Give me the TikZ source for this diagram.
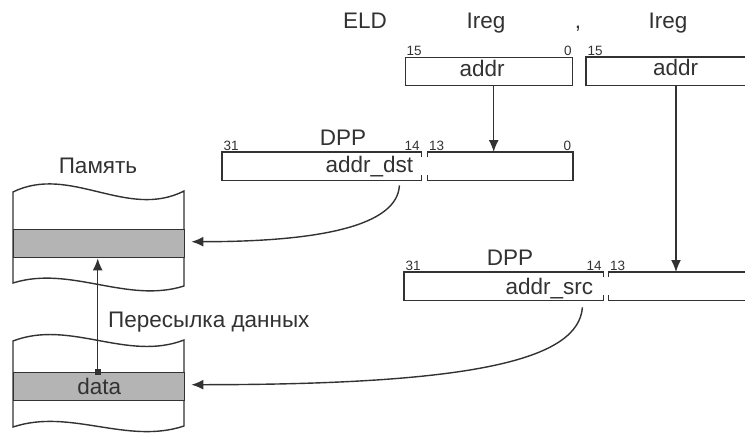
\documentclass[tikz,border=0pt]{standalone}
\usepackage{fontspec}
\setmainfont{Liberation Sans}
\usetikzlibrary{arrows.meta, positioning, calc}
\definecolor{lineFg}{RGB}{50, 50, 50}
\definecolor{cellBg}{RGB}{180, 180, 180}
\tikzstyle{line} = [line width=1.4pt, draw=lineFg]
\tikzstyle{arrow} = [line, -{Latex[length=12pt,width=10pt]}]
\tikzstyle{basic} = [rectangle, minimum height=28pt, inner sep=0pt, draw=lineFg, line width=1.4pt, fill=white, text=lineFg]
\tikzstyle{half} = [rectangle, minimum height=28pt, inner sep=0pt, text=lineFg]
\tikzstyle{cell} = [basic, fill=cellBg, font=\fontsize{22.5}{25}\selectfont]
\tikzstyle{txt} = [inner sep=0pt, text=lineFg, font=\fontsize{22.5}{25}\selectfont]
\tikzstyle{bit} = [inner sep=1.5pt, text=lineFg, font=\fontsize{13.5}{15}\selectfont]

\begin{document}
\begin{tikzpicture}[x=1pt, y=-1pt]
\useasboundingbox (0,0) rectangle (745,434);

\node (eld) [txt, anchor=base] at (365,28) {ELD};
\node (iregA) [txt, anchor=base] at (486,28) {Ireg};
\node (comma) [txt, anchor=base] at (578,28) {,};
\node (iregB) [txt, anchor=base] at (668,28) {Ireg};

\node (regA) [basic, minimum width=167pt, anchor=north west] at (405,57) {};
\node (addrA) [txt, anchor=base, xshift=-7pt, yshift=10pt] at(regA.south) {addr};
\node (regB) [half, minimum width=159pt, anchor=north west] at (586,57) {};
\draw [line] (regB.north east) -- (regB.north west) -- (regB.south west) -- (regB.south east);
\node (addrB) [txt, anchor=base, xshift=10pt, yshift=10pt] at(regB.south) {addr};
\node (bitA15) [bit, anchor=south west] at(regA.north west) {15};
\node (bitA0) [bit, anchor=south east] at(regA.north east) {0};
\node (bitB15) [bit, anchor=south west] at(regB.north west) {15};

% DPP + addr_dst
\node (dst) [half, minimum width=199pt, anchor=north west] at (222,152) {};
\node (dstLow) [half, minimum width=145pt, anchor=north west, xshift=6pt] at(dst.north east) {};
\draw [line] ($(dst.north east)+(0,5)$) -- (dst.north east) -- (dst.north west) -- (dst.south west) -- (dst.south east) -- ++(0,-5);
\draw [line] ($(dstLow.north west)+(0,5)$) -- (dstLow.north west) -- (dstLow.north east) -- (dstLow.south east) -- (dstLow.south west) -- ++(0,-5);
\node (addrDst) [txt, anchor=base east, xshift=-8pt, yshift=8pt] at(dst.south east) {addr\_dst};
\node (dppDst) [txt, anchor=base] at (343,145) {DPP};
\node (bitD31) [bit, anchor=south west] at(dst.north west) {31};
\node (bitD14) [bit, anchor=south east] at(dst.north east) {14};
\node (bitD13) [bit, anchor=south west] at(dstLow.north west) {13};
\node (bitD0) [bit, anchor=south east] at(dstLow.north east) {0};

% DPP + addr_src
\node (src) [half, minimum width=199pt, anchor=north west] at (404,272) {};
\node (srcLow) [half, minimum width=137pt, anchor=north west, xshift=5pt] at(src.north east) {};
\draw [line] ($(src.north east)+(0,5)$) -- (src.north east) -- (src.north west) -- (src.south west) -- (src.south east) -- ++(0,-5);
\draw [line] ($(srcLow.north west)+(0,5)$) -- (srcLow.north west) -- (srcLow.north east);
\draw [line] (srcLow.south east) -- (srcLow.south west) -- ++(0,-5);
\node (addrSrc) [txt, anchor=base east, xshift=-10pt, yshift=6pt] at(src.south east) {addr\_src};
\node (dppSrc) [txt, anchor=base] at (510,265) {DPP};
\node (bitS31) [bit, anchor=south west] at(src.north west) {31};
\node (bitS14) [bit, anchor=south east] at(src.north east) {14};
\node (bitS13) [bit, anchor=south west] at(srcLow.north west) {13};

% memory
\node (memory) [txt, anchor=base] at (98,173) {Память};
\draw [line, fill=white] (13,192) .. controls (70,164) and (127,220) .. (184,191) -- (184,286) .. controls (127,304) and (70,265) .. (13,283) -- cycle;
\node (cellDst) [cell, minimum width=171pt, anchor=north west] at (13,229) {};
\draw [line, fill=white] (13,341) .. controls (70,319) and (127,362) .. (184,340) -- (184,426) .. controls (127,445) and (70,408) .. (13,427) -- cycle;
\node (cellSrc) [cell, minimum width=171pt, anchor=north west] at (13,372) {data};

\node (tap) [fill=lineFg, minimum size=6pt, inner sep=0pt] at ($(cellSrc.north)+(-1.5,0)$) {};
\draw [arrow] (tap.center) -- (tap |- cellDst.south);
\node (transfer) [txt, anchor=base west] at (108,327) {Пересылка данных};

\coordinate (tapA) at ($(regA.south)+(4.5,0)$);
\draw [arrow] (tapA) -- (tapA |- dstLow.north);
\coordinate (tapB) at ($(regB.south west)+(90,0)$);
\draw [arrow] (tapB) -- (tapB |- srcLow.north);

\draw [arrow] ($(dst.south east)+(-22,5)$) .. controls +(-2,40) and +(130,0) .. ($(cellDst.east)+(6,-2)$);
\draw [arrow] ($(src.south east)+(-21,7)$) .. controls +(-4,53) and +(280,0) .. ($(cellSrc.east)+(6,-2)$);

\end{tikzpicture}
\end{document}
